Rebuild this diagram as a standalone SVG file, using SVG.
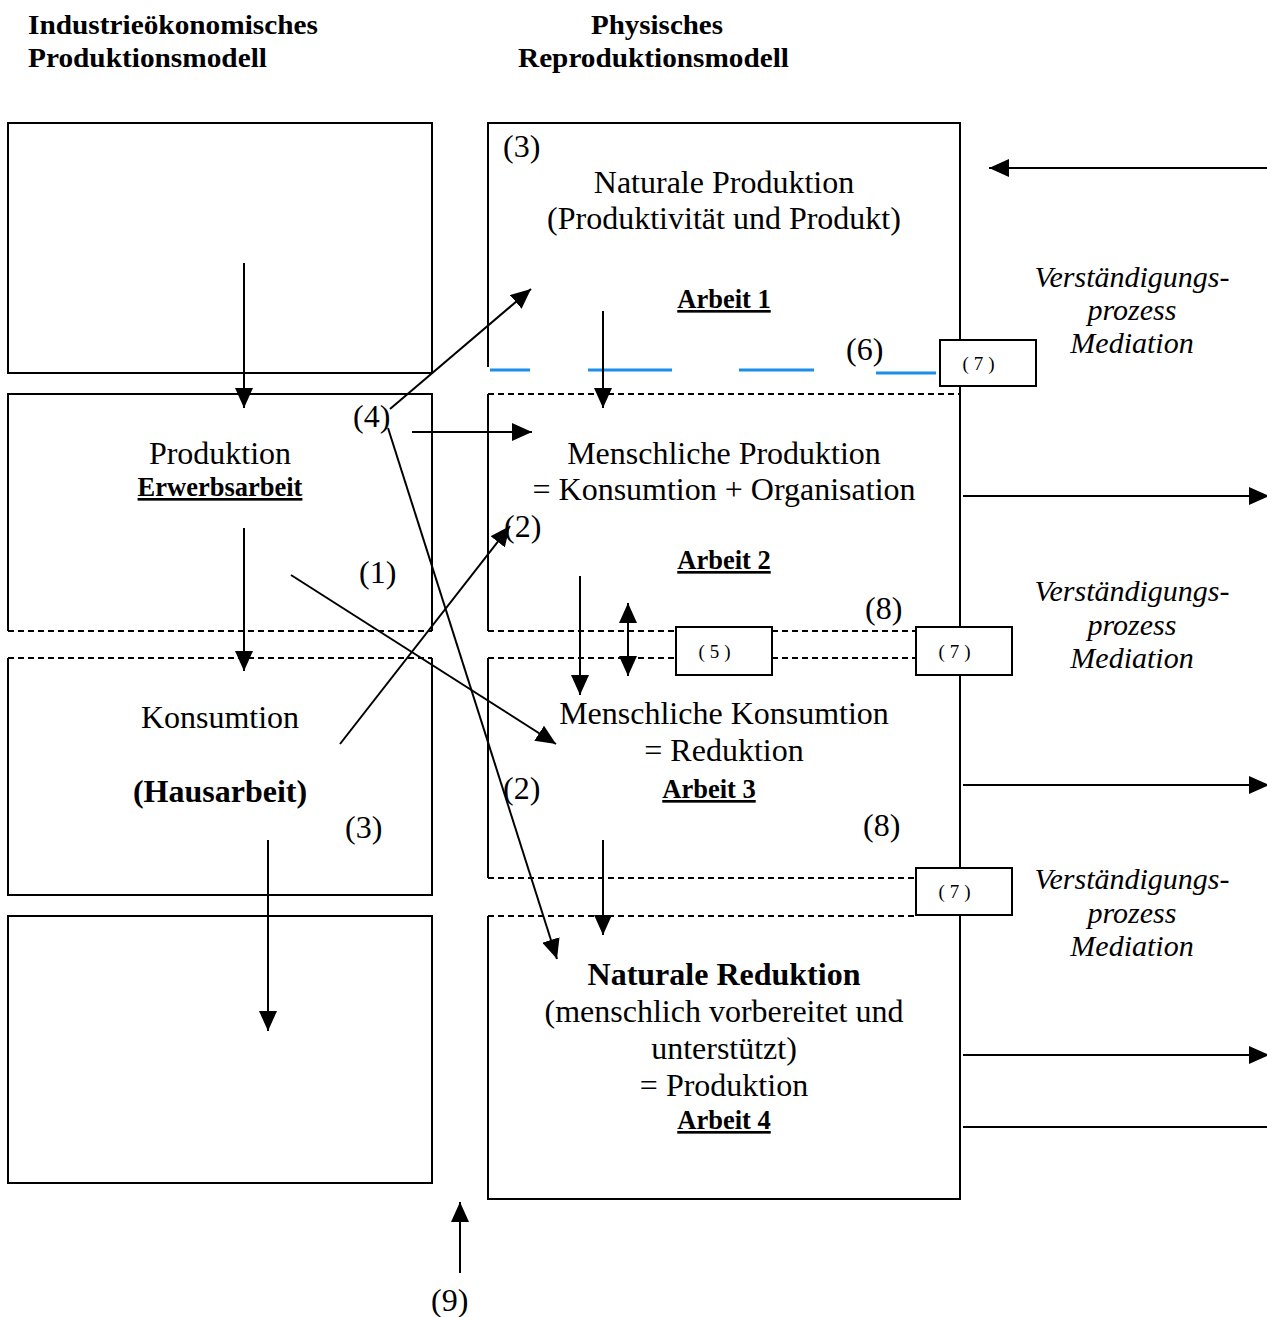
<svg xmlns="http://www.w3.org/2000/svg" width="1267" height="1317" viewBox="0 0 1267 1317">
<defs>
<style>
.t{font-family:"Liberation Serif","Times New Roman",serif;font-size:32px;fill:#000}
.c{text-anchor:middle}
.b{font-weight:bold}
.h{font-family:"Liberation Serif","Times New Roman",serif;font-size:27px;font-weight:bold;fill:#000}
.w{font-size:26.5px;font-weight:bold;text-decoration:underline}
.i{font-style:italic;font-size:30px}
.s{font-family:"Liberation Serif","Times New Roman",serif;font-size:19px;fill:#000;text-anchor:middle;letter-spacing:5px}
.ln{stroke:#000;stroke-width:2;fill:none}
.d{stroke:#000;stroke-width:2;fill:none;stroke-dasharray:6 4}
.bl{stroke:#1a8fe8;stroke-width:3;fill:none}
.box{stroke:#000;stroke-width:2;fill:#fff}
.ar{stroke:#000;stroke-width:2;fill:none;marker-end:url(#ah)}
</style>
<marker id="ah" viewBox="0 0 20 18" refX="20" refY="9" markerWidth="20" markerHeight="18" markerUnits="userSpaceOnUse" orient="auto">
<path d="M0,0 L20,9 L0,18 z" fill="#000"/>
</marker>
</defs>
<rect width="1267" height="1317" fill="#fff"/>

<g id="headers">
<text class="h" x="28" y="34" textLength="290" lengthAdjust="spacingAndGlyphs">Industrieökonomisches</text>
<text class="h" x="28" y="67" textLength="239" lengthAdjust="spacingAndGlyphs">Produktionsmodell</text>
<text class="h" x="591" y="34" textLength="132" lengthAdjust="spacingAndGlyphs">Physisches</text>
<text class="h" x="518" y="67" textLength="271" lengthAdjust="spacingAndGlyphs">Reproduktionsmodell</text>
</g>

<g id="left-top">
<rect class="ln" x="8" y="123" width="424" height="250"/>
</g>

<g id="left-produktion">
<path class="ln" d="M8,631 V394 H432 V631"/>
<line class="d" x1="8" y1="631" x2="432" y2="631"/>
<text class="t c" x="220" y="464">Produktion</text>
<text class="t c w" x="220" y="496">Erwerbsarbeit</text>
</g>

<g id="left-konsumtion">
<path class="ln" d="M8,658 V895 H432 V658"/>
<line class="d" x1="8" y1="658" x2="432" y2="658"/>
<text class="t c" x="220" y="728">Konsumtion</text>
<text class="t c b" x="220" y="802">(Hausarbeit)</text>
</g>

<g id="left-bottom">
<rect class="ln" x="8" y="916" width="424" height="267"/>
</g>

<g id="right-naturale-produktion">
<path class="ln" d="M488,367 V123 H960 V340"/>
<line class="bl" x1="490" y1="370" x2="530" y2="370"/>
<line class="bl" x1="588" y1="370" x2="672" y2="370"/>
<line class="bl" x1="739" y1="370" x2="814" y2="370"/>
<line class="bl" x1="876" y1="373" x2="936" y2="373"/>
<text class="t" x="503" y="157">(3)</text>
<text class="t c" x="724" y="193">Naturale Produktion</text>
<text class="t c" x="724" y="229">(Produktivität und Produkt)</text>
<text class="t c w" x="724" y="308">Arbeit 1</text>
<text class="t" x="846" y="360">(6)</text>
</g>

<g id="right-menschliche-produktion">
<path class="ln" d="M488,631 V394"/>
<path class="ln" d="M960,386 V627"/>
<line class="d" x1="488" y1="394" x2="960" y2="394"/>
<line class="d" x1="488" y1="631" x2="676" y2="631"/>
<line class="d" x1="772" y1="631" x2="916" y2="631"/>
<text class="t c" x="724" y="464">Menschliche Produktion</text>
<text class="t c" x="724" y="500">= Konsumtion + Organisation</text>
<text class="t c w" x="724" y="569">Arbeit 2</text>
</g>

<g id="right-menschliche-konsumtion">
<path class="ln" d="M488,658 V878"/>
<path class="ln" d="M960,675 V868"/>
<line class="d" x1="488" y1="658" x2="676" y2="658"/>
<line class="d" x1="772" y1="658" x2="916" y2="658"/>
<line class="d" x1="488" y1="878" x2="916" y2="878"/>
<text class="t c" x="724" y="724">Menschliche Konsumtion</text>
<text class="t c" x="724" y="761">= Reduktion</text>
<text class="t c w" x="709" y="798">Arbeit 3</text>
</g>

<g id="right-naturale-reduktion">
<path class="ln" d="M488,916 V1199 H960 V915"/>
<line class="d" x1="488" y1="916" x2="916" y2="916"/>
<text class="t c b" x="724" y="985">Naturale Reduktion</text>
<text class="t c" x="724" y="1022">(menschlich vorbereitet und</text>
<text class="t c" x="724" y="1059">unterstützt)</text>
<text class="t c" x="724" y="1096">= Produktion</text>
<text class="t c w" x="724" y="1129">Arbeit 4</text>
</g>

<g id="box7a"><rect class="box" x="940" y="340" width="96" height="46"/><text class="s" x="981" y="370">(7)</text></g>
<g id="box5"><rect class="box" x="676" y="627" width="96" height="48"/><text class="s" x="717" y="658">(5)</text></g>
<g id="box7b"><rect class="box" x="916" y="627" width="96" height="48"/><text class="s" x="957" y="658">(7)</text></g>
<g id="box7c"><rect class="box" x="916" y="868" width="96" height="47"/><text class="s" x="957" y="898">(7)</text></g>

<g id="mediation">
<text class="t c i" x="1132" y="287">Verständigungs-</text>
<text class="t c i" x="1132" y="320">prozess</text>
<text class="t c i" x="1132" y="353">Mediation</text>
<text class="t c i" x="1132" y="601">Verständigungs-</text>
<text class="t c i" x="1132" y="635">prozess</text>
<text class="t c i" x="1132" y="668">Mediation</text>
<text class="t c i" x="1132" y="889">Verständigungs-</text>
<text class="t c i" x="1132" y="923">prozess</text>
<text class="t c i" x="1132" y="956">Mediation</text>
</g>

<g id="labels">
<text class="t" x="353" y="427">(4)</text>
<text class="t" x="504" y="537">(2)</text>
<text class="t" x="359" y="583">(1)</text>
<text class="t" x="865" y="619">(8)</text>
<text class="t" x="345" y="838">(3)</text>
<text class="t" x="503" y="799">(2)</text>
<text class="t" x="863" y="836">(8)</text>
<text class="t" x="431" y="1311">(9)</text>
</g>

<g id="connectors">
<line class="ar" x1="244" y1="263" x2="244" y2="408"/>
<line class="ar" x1="244" y1="528" x2="244" y2="671"/>
<line class="ar" x1="268" y1="840" x2="268" y2="1031"/>
<line class="ar" x1="390" y1="409" x2="531" y2="289"/>
<line class="ar" x1="412" y1="432" x2="532" y2="432"/>
<line class="ar" x1="388" y1="428" x2="557" y2="959"/>
<line class="ar" x1="291" y1="575" x2="556" y2="744"/>
<line class="ar" x1="340" y1="744" x2="510" y2="526"/>
<line class="ar" x1="603" y1="311" x2="603" y2="408"/>
<line class="ar" x1="580" y1="576" x2="580" y2="695"/>
<line class="ar" x1="628" y1="640" x2="628" y2="603"/>
<line class="ar" x1="628" y1="640" x2="628" y2="676"/>
<line class="ar" x1="603" y1="840" x2="603" y2="935"/>
<line class="ar" x1="1267" y1="168" x2="989" y2="168"/>
<line class="ar" x1="963" y1="496" x2="1269" y2="496"/>
<line class="ar" x1="963" y1="785" x2="1269" y2="785"/>
<line class="ar" x1="963" y1="1055" x2="1269" y2="1055"/>
<line class="ln" x1="963" y1="1127" x2="1267" y2="1127"/>
<line class="ar" x1="460" y1="1273" x2="460" y2="1202"/>
</g>
</svg>
